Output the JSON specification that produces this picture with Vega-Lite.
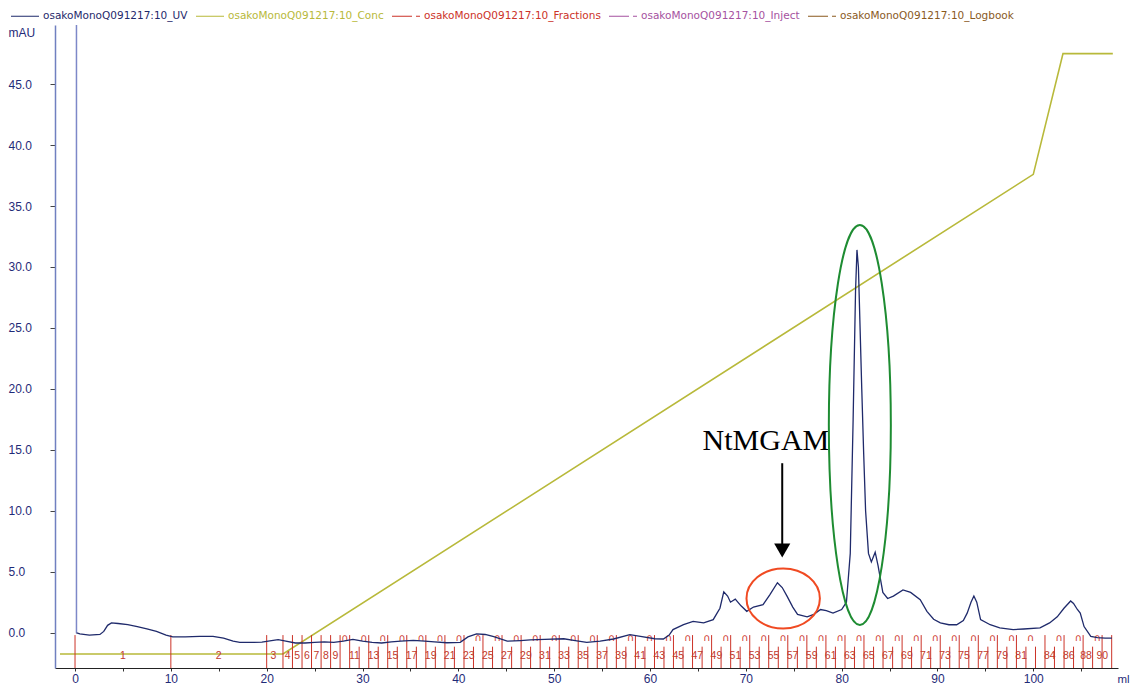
{
  "$schema": "https://vega.github.io/schema/vega-lite/v6.json",
  "width": 1063,
  "height": 643,
  "autosize": {"type": "none"},
  "padding": {"left": 55, "top": 25, "right": 13, "bottom": 18},
  "background": "white",
  "config": {
    "view": {"stroke": null},
    "axis": {"grid": false, "labelFont": "Liberation Sans", "titleFont": "Liberation Sans"}
  },
  "datasets": {
    "conc": [
      {"ml": -1.57, "val": -1.75},
      {"ml": 21.7, "val": -1.75},
      {"ml": 100.0, "val": 37.6},
      {"ml": 103.1, "val": 47.5},
      {"ml": 108.3, "val": 47.5}
    ],
    "uv": [
      {"ml": 0.1, "mau": 0.0}, {"ml": 0.5, "mau": -0.1}, {"ml": 1.5, "mau": -0.2}, {"ml": 2.6, "mau": -0.15},
      {"ml": 3.0, "mau": 0.1}, {"ml": 3.4, "mau": 0.6}, {"ml": 3.8, "mau": 0.8}, {"ml": 4.5, "mau": 0.75},
      {"ml": 5.5, "mau": 0.65}, {"ml": 6.5, "mau": 0.5}, {"ml": 7.5, "mau": 0.3}, {"ml": 8.5, "mau": 0.1},
      {"ml": 9.5, "mau": -0.2}, {"ml": 10.2, "mau": -0.35}, {"ml": 11.5, "mau": -0.35}, {"ml": 13.0, "mau": -0.3},
      {"ml": 14.4, "mau": -0.3}, {"ml": 15.5, "mau": -0.45}, {"ml": 16.5, "mau": -0.7}, {"ml": 17.2, "mau": -0.8},
      {"ml": 18.5, "mau": -0.8}, {"ml": 19.5, "mau": -0.78}, {"ml": 20.5, "mau": -0.65}, {"ml": 21.2, "mau": -0.57},
      {"ml": 22.0, "mau": -0.7}, {"ml": 23.0, "mau": -0.85}, {"ml": 24.0, "mau": -0.85}, {"ml": 25.0, "mau": -0.8},
      {"ml": 26.0, "mau": -0.75}, {"ml": 27.0, "mau": -0.8}, {"ml": 28.0, "mau": -0.7}, {"ml": 29.0, "mau": -0.55},
      {"ml": 30.0, "mau": -0.7}, {"ml": 31.0, "mau": -0.8}, {"ml": 32.0, "mau": -0.85}, {"ml": 33.0, "mau": -0.75},
      {"ml": 34.0, "mau": -0.7}, {"ml": 35.3, "mau": -0.63}, {"ml": 36.5, "mau": -0.7}, {"ml": 37.5, "mau": -0.75},
      {"ml": 38.8, "mau": -0.83}, {"ml": 40.2, "mau": -0.8}, {"ml": 41.0, "mau": -0.35}, {"ml": 41.9, "mau": -0.1},
      {"ml": 42.8, "mau": -0.15}, {"ml": 43.7, "mau": -0.33}, {"ml": 45.1, "mau": -0.7}, {"ml": 46.5, "mau": -0.65},
      {"ml": 47.5, "mau": -0.6}, {"ml": 49.0, "mau": -0.55}, {"ml": 51.0, "mau": -0.5}, {"ml": 52.2, "mau": -0.65},
      {"ml": 53.4, "mau": -0.8}, {"ml": 54.8, "mau": -0.7}, {"ml": 56.2, "mau": -0.52}, {"ml": 57.9, "mau": -0.16},
      {"ml": 59.0, "mau": -0.3}, {"ml": 60.5, "mau": -0.5}, {"ml": 61.4, "mau": -0.52}, {"ml": 62.0, "mau": -0.2},
      {"ml": 62.4, "mau": 0.25}, {"ml": 63.5, "mau": 0.65}, {"ml": 64.5, "mau": 0.93}, {"ml": 65.6, "mau": 0.8},
      {"ml": 66.6, "mau": 1.07}, {"ml": 67.0, "mau": 1.6}, {"ml": 67.3, "mau": 2.0}, {"ml": 67.7, "mau": 3.35},
      {"ml": 68.1, "mau": 3.0}, {"ml": 68.4, "mau": 2.5}, {"ml": 68.9, "mau": 2.75}, {"ml": 69.5, "mau": 2.2},
      {"ml": 70.1, "mau": 1.75}, {"ml": 70.8, "mau": 2.1}, {"ml": 71.8, "mau": 2.3}, {"ml": 72.5, "mau": 3.1},
      {"ml": 73.3, "mau": 4.1}, {"ml": 73.8, "mau": 3.7}, {"ml": 74.3, "mau": 3.0}, {"ml": 74.9, "mau": 2.1},
      {"ml": 75.4, "mau": 1.5}, {"ml": 76.4, "mau": 1.3}, {"ml": 77.1, "mau": 1.5}, {"ml": 77.8, "mau": 1.9},
      {"ml": 78.4, "mau": 1.8}, {"ml": 79.1, "mau": 1.6}, {"ml": 80.0, "mau": 1.9}, {"ml": 80.5, "mau": 2.5},
      {"ml": 80.9, "mau": 6.5}, {"ml": 81.2, "mau": 17.5}, {"ml": 81.45, "mau": 28.0}, {"ml": 81.6, "mau": 31.4},
      {"ml": 81.75, "mau": 30.0}, {"ml": 81.9, "mau": 25.7}, {"ml": 82.1, "mau": 20.0}, {"ml": 82.3, "mau": 14.7},
      {"ml": 82.5, "mau": 10.0}, {"ml": 82.8, "mau": 6.5}, {"ml": 83.1, "mau": 5.8}, {"ml": 83.5, "mau": 6.6},
      {"ml": 83.8, "mau": 5.5}, {"ml": 84.3, "mau": 3.3}, {"ml": 84.8, "mau": 2.8}, {"ml": 85.4, "mau": 3.0},
      {"ml": 86.4, "mau": 3.5}, {"ml": 87.2, "mau": 3.3}, {"ml": 88.2, "mau": 2.7}, {"ml": 88.9, "mau": 1.75},
      {"ml": 89.6, "mau": 1.1}, {"ml": 90.3, "mau": 0.8}, {"ml": 91.2, "mau": 0.65}, {"ml": 92.0, "mau": 0.65},
      {"ml": 92.7, "mau": 1.0}, {"ml": 93.1, "mau": 1.6}, {"ml": 93.5, "mau": 2.5}, {"ml": 93.8, "mau": 3.0},
      {"ml": 94.1, "mau": 2.5}, {"ml": 94.5, "mau": 1.07}, {"ml": 95.5, "mau": 0.65}, {"ml": 96.5, "mau": 0.4},
      {"ml": 97.9, "mau": 0.25}, {"ml": 99.0, "mau": 0.3}, {"ml": 100.7, "mau": 0.4}, {"ml": 101.7, "mau": 0.8},
      {"ml": 102.5, "mau": 1.3}, {"ml": 103.2, "mau": 2.0}, {"ml": 103.9, "mau": 2.6}, {"ml": 104.2, "mau": 2.4},
      {"ml": 104.6, "mau": 1.9}, {"ml": 104.9, "mau": 1.6}, {"ml": 105.3, "mau": 0.5}, {"ml": 106.0, "mau": -0.3},
      {"ml": 106.7, "mau": -0.4}, {"ml": 107.5, "mau": -0.45}, {"ml": 108.2, "mau": -0.45}
    ],
    "fracTall": [
      {"ml": 0}, {"ml": 10}, {"ml": 20}, {"ml": 21.70}, {"ml": 22.69}, {"ml": 23.69}, {"ml": 24.68}, {"ml": 25.68},
      {"ml": 26.67}, {"ml": 27.66}, {"ml": 28.66}, {"ml": 30.65}, {"ml": 32.63}, {"ml": 34.62}, {"ml": 36.61},
      {"ml": 38.60}, {"ml": 40.59}, {"ml": 42.57}, {"ml": 44.56}, {"ml": 46.55}, {"ml": 48.54}, {"ml": 50.53},
      {"ml": 52.51}, {"ml": 54.50}, {"ml": 56.49}, {"ml": 58.48}, {"ml": 60.47}, {"ml": 62.45}, {"ml": 64.44},
      {"ml": 66.43}, {"ml": 68.42}, {"ml": 70.41}, {"ml": 72.39}, {"ml": 74.38}, {"ml": 76.37}, {"ml": 78.36},
      {"ml": 80.35}, {"ml": 82.33}, {"ml": 84.32}, {"ml": 86.31}, {"ml": 88.30}, {"ml": 90.29}, {"ml": 92.27},
      {"ml": 94.26}, {"ml": 96.25}, {"ml": 98.24}, {"ml": 101.22}, {"ml": 103.21}, {"ml": 105.20}, {"ml": 107.18},
      {"ml": 108.18}
    ],
    "fracShort": [
      {"ml": 29.65}, {"ml": 31.64}, {"ml": 33.63}, {"ml": 35.62}, {"ml": 37.60}, {"ml": 39.59}, {"ml": 41.58},
      {"ml": 43.57}, {"ml": 45.56}, {"ml": 47.54}, {"ml": 49.53}, {"ml": 51.52}, {"ml": 53.51}, {"ml": 55.50},
      {"ml": 57.48}, {"ml": 59.47}, {"ml": 61.46}, {"ml": 63.45}, {"ml": 65.44}, {"ml": 67.42}, {"ml": 69.41},
      {"ml": 71.40}, {"ml": 73.39}, {"ml": 75.38}, {"ml": 77.36}, {"ml": 79.35}, {"ml": 81.34}, {"ml": 83.33},
      {"ml": 85.32}, {"ml": 87.30}, {"ml": 89.29}, {"ml": 91.28}, {"ml": 93.27}, {"ml": 95.26}, {"ml": 97.24},
      {"ml": 99.23}, {"ml": 100.23}, {"ml": 102.21}, {"ml": 104.20}, {"ml": 106.19}
    ],
    "fracCap": [
      {"ml": 28.16}, {"ml": 30.15}, {"ml": 32.14}, {"ml": 34.13}, {"ml": 36.12}, {"ml": 38.10}, {"ml": 40.09},
      {"ml": 42.08}, {"ml": 44.07}, {"ml": 46.06}, {"ml": 48.04}, {"ml": 50.03}, {"ml": 52.02}, {"ml": 54.01},
      {"ml": 56.00}, {"ml": 57.98}, {"ml": 59.97}, {"ml": 61.96}, {"ml": 63.95}, {"ml": 65.94}, {"ml": 67.92},
      {"ml": 69.91}, {"ml": 71.90}, {"ml": 73.89}, {"ml": 75.88}, {"ml": 77.86}, {"ml": 79.85}, {"ml": 81.84},
      {"ml": 83.83}, {"ml": 85.82}, {"ml": 87.80}, {"ml": 89.79}, {"ml": 91.78}, {"ml": 93.77}, {"ml": 95.76},
      {"ml": 97.74}, {"ml": 99.73}, {"ml": 102.71}, {"ml": 104.70}, {"ml": 106.69}
    ],
    "fracLabels": [
      {"ml": 5.0, "label": "1"}, {"ml": 15.0, "label": "2"}, {"ml": 20.7, "label": "3"}, {"ml": 22.20, "label": "4"},
      {"ml": 23.19, "label": "5"}, {"ml": 24.19, "label": "6"}, {"ml": 25.18, "label": "7"}, {"ml": 26.18, "label": "8"},
      {"ml": 27.17, "label": "9"}, {"ml": 29.16, "label": "11"}, {"ml": 31.15, "label": "13"}, {"ml": 33.13, "label": "15"},
      {"ml": 35.12, "label": "17"}, {"ml": 37.11, "label": "19"}, {"ml": 39.10, "label": "21"}, {"ml": 41.09, "label": "23"},
      {"ml": 43.07, "label": "25"}, {"ml": 45.06, "label": "27"}, {"ml": 47.05, "label": "29"}, {"ml": 49.04, "label": "31"},
      {"ml": 51.03, "label": "33"}, {"ml": 53.01, "label": "35"}, {"ml": 55.00, "label": "37"}, {"ml": 56.99, "label": "39"},
      {"ml": 58.98, "label": "41"}, {"ml": 60.97, "label": "43"}, {"ml": 62.95, "label": "45"}, {"ml": 64.94, "label": "47"},
      {"ml": 66.93, "label": "49"}, {"ml": 68.92, "label": "51"}, {"ml": 70.91, "label": "53"}, {"ml": 72.89, "label": "55"},
      {"ml": 74.88, "label": "57"}, {"ml": 76.87, "label": "59"}, {"ml": 78.86, "label": "61"}, {"ml": 80.85, "label": "63"},
      {"ml": 82.83, "label": "65"}, {"ml": 84.82, "label": "67"}, {"ml": 86.81, "label": "69"}, {"ml": 88.80, "label": "71"},
      {"ml": 90.79, "label": "73"}, {"ml": 92.77, "label": "75"}, {"ml": 94.76, "label": "77"}, {"ml": 96.75, "label": "79"},
      {"ml": 98.74, "label": "81"}, {"ml": 101.72, "label": "84"}, {"ml": 103.71, "label": "86"}, {"ml": 105.5, "label": "88"},
      {"ml": 107.2, "label": "90"}
    ]
  },
  "layer": [
    {
      "data": {"name": "conc"},
      "mark": {"type": "line", "strokeWidth": 1.6},
      "encoding": {
        "x": {
          "field": "ml", "type": "quantitative",
          "scale": {"domain": [-2.09, 108.84], "nice": false, "zero": false},
          "axis": {
            "values": [0, 5, 10, 15, 20, 25, 30, 35, 40, 45, 50, 55, 60, 65, 70, 75, 80, 85, 90, 95, 100, 105],
            "labelExpr": "datum.value % 10 === 0 && datum.value <= 100 ? format(datum.value, 'd') : ''",
            "tickSize": 3, "tickColor": "#333333", "domainColor": "#222222",
            "labelFontSize": 12, "labelPadding": 2, "labelColor": "#1f2b78", "labelFlush": false,
            "title": "ml", "titleAngle": 0, "titleX": 1062, "titleY": 11, "titleAlign": "left",
            "titleBaseline": "middle", "titleFontWeight": "normal", "titleFontSize": 11.5, "titleColor": "#1f2b78"
          }
        },
        "y": {
          "field": "val", "type": "quantitative",
          "scale": {"domain": [-2.9, 49.85], "nice": false, "zero": false},
          "axis": {
            "values": [0, 5, 10, 15, 20, 25, 30, 35, 40, 45],
            "format": ".1f",
            "tickSize": 5, "tickColor": "#444444",
            "domainColor": "#7080c0", "domainWidth": 1.5,
            "labelAlign": "left", "labelPadding": 42, "labelFlush": false,
            "labelFontSize": 12, "labelColor": "#1f2b78",
            "title": "mAU", "titleAngle": 0, "titleAlign": "left", "titleBaseline": "middle",
            "titleX": -47, "titleY": 7, "titleFontWeight": "normal", "titleFontSize": 12, "titleColor": "#1f2b78"
          }
        },
        "color": {
          "datum": "osakoMonoQ091217:10_Conc",
          "scale": {
            "domain": ["osakoMonoQ091217:10_UV", "osakoMonoQ091217:10_Conc", "osakoMonoQ091217:10_Fractions", "osakoMonoQ091217:10_Inject", "osakoMonoQ091217:10_Logbook"],
            "range": ["#1f2a6b", "#b8b93a", "#cc3328", "#a552a0", "#8a5a1e"]
          },
          "legend": {
            "orient": "none", "legendX": -45, "legendY": -24, "direction": "horizontal", "title": null,
            "symbolType": "stroke", "symbolSize": 784, "symbolStrokeWidth": 1.2,
            "labelFont": "DejaVu Sans", "labelFontSize": 10.5, "labelOffset": 3, "columnPadding": 5, "labelLimit": 300,
            "encode": {
              "labels": {"update": {"fill": {"signal": "scale('color', datum.value)"}}},
              "symbols": {"update": {"strokeDash": {"signal": "datum.value == 'osakoMonoQ091217:10_UV' || datum.value == 'osakoMonoQ091217:10_Conc' ? [1, 0] : [20, 4, 4, 100]"}}}
            }
          }
        }
      }
    },
    {
      "data": {"name": "fracTall"},
      "mark": {"type": "rule", "color": "#cc3328", "strokeWidth": 1},
      "encoding": {
        "x": {"field": "ml", "type": "quantitative"},
        "y": {"datum": -2.9, "type": "quantitative"},
        "y2": {"datum": -0.2}
      }
    },
    {
      "data": {"name": "fracShort"},
      "mark": {"type": "rule", "color": "#cc3328", "strokeWidth": 1},
      "encoding": {
        "x": {"field": "ml", "type": "quantitative"},
        "y": {"datum": -2.9, "type": "quantitative"},
        "y2": {"datum": -1.15}
      }
    },
    {
      "data": {"name": "fracCap"},
      "mark": {"type": "text", "text": "∩", "color": "#cc3328", "font": "DejaVu Sans", "fontSize": 10, "baseline": "middle", "align": "center"},
      "encoding": {
        "x": {"field": "ml", "type": "quantitative"},
        "y": {"datum": -0.45, "type": "quantitative"}
      }
    },
    {
      "data": {"name": "fracLabels"},
      "mark": {"type": "text", "color": "#c23a2c", "font": "Liberation Sans", "fontSize": 10.5, "baseline": "middle", "align": "center"},
      "encoding": {
        "x": {"field": "ml", "type": "quantitative"},
        "y": {"datum": -1.91, "type": "quantitative"},
        "text": {"field": "label"}
      }
    },
    {
      "data": {"name": "uv"},
      "mark": {"type": "line", "strokeWidth": 1.3},
      "encoding": {
        "x": {"field": "ml", "type": "quantitative"},
        "y": {"field": "mau", "type": "quantitative"},
        "color": {"datum": "osakoMonoQ091217:10_UV"}
      }
    },
    {
      "data": {"values": [{}]},
      "mark": {"type": "rule", "color": "#7d88c8", "strokeWidth": 1.5},
      "encoding": {
        "x": {"datum": 0.15, "type": "quantitative"},
        "y": {"datum": 0.0, "type": "quantitative"},
        "y2": {"datum": 49.85}
      }
    },
    {
      "data": {"values": [{}]},
      "mark": {"type": "text", "text": "NtMGAM", "font": "Liberation Serif", "fontSize": 30, "baseline": "alphabetic", "align": "center", "color": "black"},
      "encoding": {
        "x": {"datum": 72.1, "type": "quantitative"},
        "y": {"datum": 15.0, "type": "quantitative"}
      }
    },
    {
      "data": {"values": [{}]},
      "mark": {"type": "rule", "color": "black", "strokeWidth": 2},
      "encoding": {
        "x": {"datum": 73.8, "type": "quantitative"},
        "y": {"datum": 13.9, "type": "quantitative"},
        "y2": {"datum": 7.2}
      }
    },
    {
      "data": {"values": [{}]},
      "mark": {"type": "point", "shape": "triangle-down", "size": 260, "filled": true, "color": "black", "opacity": 1},
      "encoding": {
        "x": {"datum": 73.8, "type": "quantitative"},
        "y": {"datum": 6.74, "type": "quantitative"}
      }
    },
    {
      "data": {"values": [{}]},
      "mark": {"type": "point", "shape": "M -1 0 A 1 0.817 0 1 0 1 0 A 1 0.817 0 1 0 -1 0 Z", "size": 5388, "filled": false, "color": "#f04a22", "strokeWidth": 2, "opacity": 1},
      "encoding": {
        "x": {"datum": 73.9, "type": "quantitative"},
        "y": {"datum": 2.8, "type": "quantitative"}
      }
    },
    {
      "data": {"values": [{}]},
      "mark": {"type": "point", "shape": "M -0.155 0 A 0.155 1 0 1 0 0.155 0 A 0.155 1 0 1 0 -0.155 0 Z", "size": 160000, "filled": false, "color": "#1e8c32", "strokeWidth": 2, "opacity": 1},
      "encoding": {
        "x": {"datum": 81.9, "type": "quantitative"},
        "y": {"datum": 17.04, "type": "quantitative"}
      }
    }
  ]
}
